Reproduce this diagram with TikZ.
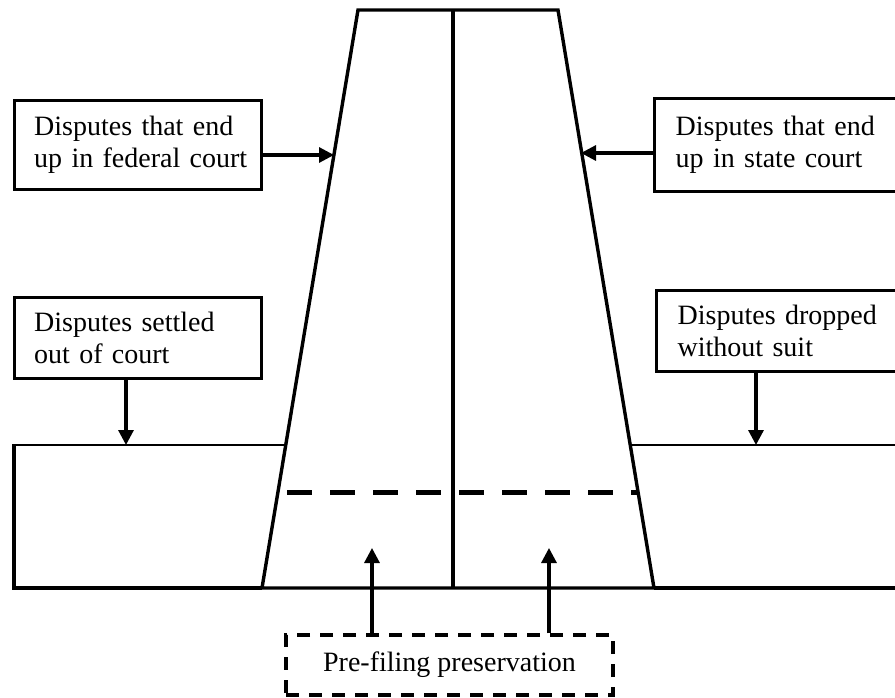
\documentclass[tikz,border=0pt]{standalone}
\usepackage{fontspec}
\setmainfont{Liberation Serif}
\usetikzlibrary{arrows.meta}
\tikzset{
  box/.style={draw, line width=3.4pt, text width=208pt, align=left, anchor=north west,
    font=\fontsize{28}{32}\selectfont, inner ysep=0pt},
  arr/.style={line width=3.2pt, -{Triangle[length=15pt,width=15pt]}},
  shape line/.style={line width=3.4pt},
  thin line/.style={line width=2.8pt},
  dashline/.style={line width=5pt, dash pattern=on 25pt off 18pt},
  dbox/.style={draw, line width=3.4pt, dash pattern=on 13pt off 10pt, minimum width=327pt,
    minimum height=60pt, font=\fontsize{28}{32}\selectfont, inner sep=0pt}
}
\begin{document}
\begin{tikzpicture}[x=1pt,y=-1pt]
\useasboundingbox (0,0) rectangle (895,698);
% trapezoid (funnel)
\coordinate (tl) at (358,10);
\coordinate (tr) at (558,10);
\coordinate (br) at (654,588);
\coordinate (bl) at (262,588);
\draw[shape line, line join=miter] (tl) -- (tr) -- (br) -- (bl) -- cycle;
\draw[shape line] (453,10) -- (453,588);
% horizontal band
\draw[thin line] (286,445) -- (14,445);
\draw[shape line, line join=miter] (14,444) -- (14,588) -- (bl);
\draw[thin line] (630.5,445) -- (905,445);
\draw[shape line] (br) -- (905,588);
% dashed line
\draw[dashline] (287,492) -- (637,492);
% boxes
\node[box, inner xsep=19.5pt, minimum width=247pt, minimum height=89pt] (fed) at (13,99)
  {\makebox[205pt][s]{Disputes that end}\\\mbox{up in federal court}};
\node[box, inner xsep=21pt, minimum width=250pt, minimum height=93pt] (state) at (653,97)
  {\makebox[205pt][s]{Disputes that end}\\\mbox{up in state court}};
\node[box, inner xsep=19.5pt, minimum width=247pt, minimum height=81pt] (set) at (13,296)
  {Disputes settled\\out of court};
\node[box, inner xsep=21pt, minimum width=250pt, minimum height=81pt] (drop) at (655,289)
  {\makebox[205pt][s]{Disputes dropped}\\without suit};
% arrows to funnel
\coordinate (fedtip) at (334,155);
\coordinate (statetip) at (581,153);
\draw[arr] (fed.east |- fedtip) -- (fedtip);
\draw[arr] (state.west |- statetip) -- (statetip);
\coordinate (settip) at (126,445);
\coordinate (droptip) at (756,445);
\draw[arr] (set.south -| settip) -- (settip);
\draw[arr] (drop.south -| droptip) -- (droptip);
% pre-filing box
\node[dbox] (pre) at (449.5,665) {Pre-filing preservation};
\coordinate (up1) at (372,548);
\coordinate (up2) at (549,548);
\draw[arr] (pre.north -| up1) -- (up1);
\draw[arr] (pre.north -| up2) -- (up2);
\end{tikzpicture}
\end{document}
